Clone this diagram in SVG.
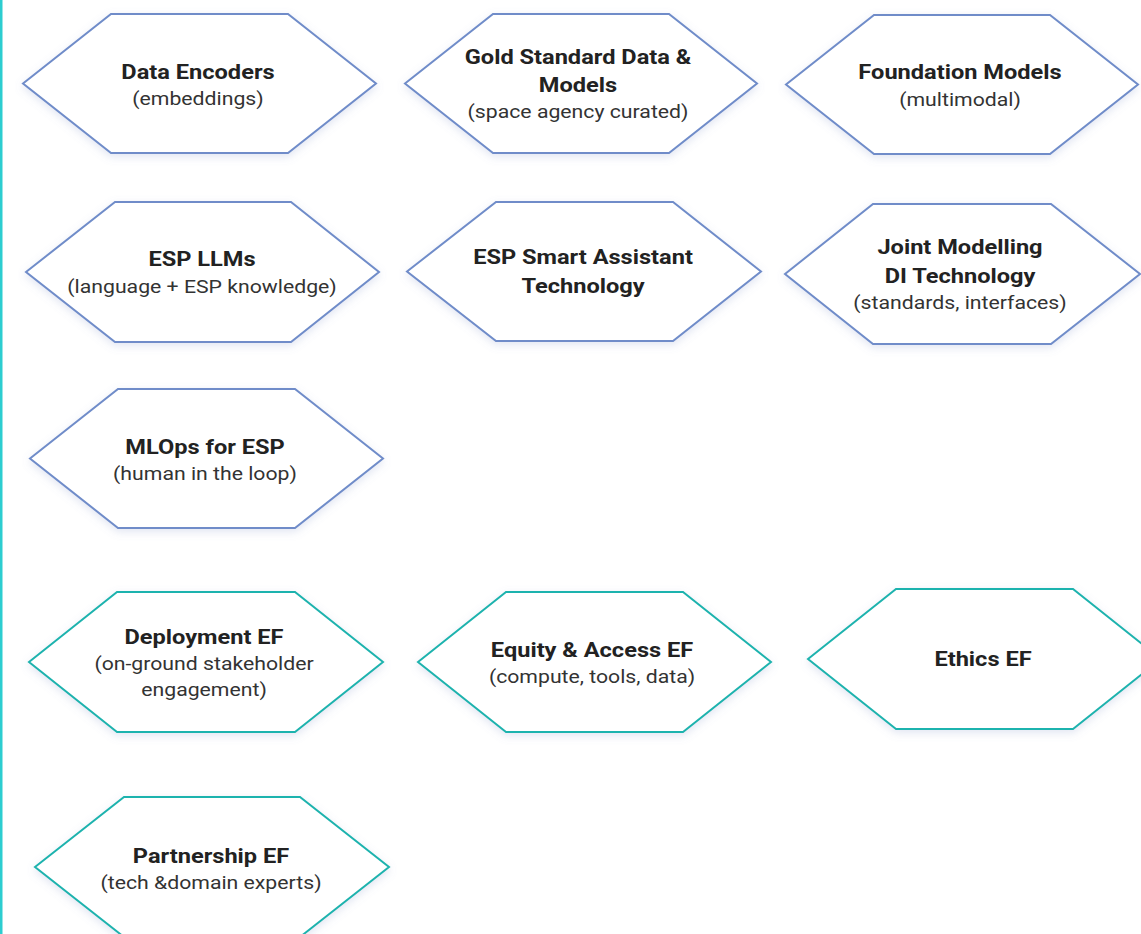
<svg xmlns="http://www.w3.org/2000/svg" width="1141" height="934" viewBox="0 0 1141 934">
<defs>
<filter id="sh" x="-10%" y="-10%" width="120%" height="130%">
<feDropShadow dx="0" dy="3" stdDeviation="4" flood-color="#7a8cc8" flood-opacity="0.22"/>
</filter>
<style>
.hx{fill:#ffffff;stroke-width:2;filter:url(#sh)}
.tech{stroke:#6f8cc9}
.ef{stroke:#1fb3ae}
.t{font-family:Roboto,"Liberation Sans",sans-serif;font-weight:700;font-size:20px;fill:#222222;text-anchor:middle}
.s{font-family:Roboto,"Liberation Sans",sans-serif;font-weight:400;font-size:18px;fill:#333333;text-anchor:middle}
</style>
</defs>
<rect x="0" y="0" width="1141" height="934" fill="#ffffff"/>
<rect x="0" y="0" width="2.5" height="934" fill="#2ccdd0"/>
<g id="connectors"></g>
<g id="data-encoders">
<polygon class="hx tech" points="23,83.5 111,14 288,14 376,83.5 288,153 111,153"/>
<g transform="translate(198 0) scale(1.18 1)">
<text class="t" x="0" y="79">Data Encoders</text>
<text class="s" x="0" y="105.5">(embeddings)</text>
</g>
</g>
<g id="gold-standard">
<polygon class="hx tech" points="405,83.5 493,14 669,14 757,83.5 669,153 493,153"/>
<g transform="translate(578 0) scale(1.18 1)">
<text class="t" x="0" y="64.5">Gold Standard Data &amp;</text>
<text class="t" x="0" y="92.5">Models</text>
<text class="s" x="0" y="118.5">(space agency curated)</text>
</g>
</g>
<g id="foundation-models">
<polygon class="hx tech" points="786,84.5 874,15 1050,15 1138,84.5 1050,154 874,154"/>
<g transform="translate(960 0) scale(1.18 1)">
<text class="t" x="0" y="79.5">Foundation Models</text>
<text class="s" x="0" y="106">(multimodal)</text>
</g>
</g>
<g id="esp-llms">
<polygon class="hx tech" points="26,272 115,202 291,202 379,272 291,342 115,342"/>
<g transform="translate(202 0) scale(1.18 1)">
<text class="t" x="0" y="266.5">ESP LLMs</text>
<text class="s" x="0" y="293.5">(language + ESP knowledge)</text>
</g>
</g>
<g id="esp-smart-assistant">
<polygon class="hx tech" points="407,271.5 496,202 673,202 761,271.5 673,341 496,341"/>
<g transform="translate(583 0) scale(1.18 1)">
<text class="t" x="0" y="264.5">ESP Smart Assistant</text>
<text class="t" x="0" y="293.5">Technology</text>
</g>
</g>
<g id="joint-modelling">
<polygon class="hx tech" points="785,274 873,204 1051,204 1140,274 1051,344 873,344"/>
<g transform="translate(960 0) scale(1.18 1)">
<text class="t" x="0" y="254.5">Joint Modelling</text>
<text class="t" x="0" y="283.5">DI Technology</text>
<text class="s" x="0" y="309.5">(standards, interfaces)</text>
</g>
</g>
<g id="mlops">
<polygon class="hx tech" points="30,458.5 118,389 295,389 383,458.5 295,528 118,528"/>
<g transform="translate(205 0) scale(1.18 1)">
<text class="t" x="0" y="454.5">MLOps for ESP</text>
<text class="s" x="0" y="480.5">(human in the loop)</text>
</g>
</g>
<g id="deployment-ef">
<polygon class="hx ef" points="29,662 117,592 295,592 383,662 295,732 117,732"/>
<g transform="translate(204 0) scale(1.18 1)">
<text class="t" x="0" y="644.5">Deployment EF</text>
<text class="s" x="0" y="670.5">(on-ground stakeholder</text>
<text class="s" x="0" y="696.5">engagement)</text>
</g>
</g>
<g id="equity-access-ef">
<polygon class="hx ef" points="418,662 506,592 683,592 771,662 683,732 506,732"/>
<g transform="translate(592 0) scale(1.18 1)">
<text class="t" x="0" y="657.5">Equity &amp; Access EF</text>
<text class="s" x="0" y="683.5">(compute, tools, data)</text>
</g>
</g>
<g id="ethics-ef">
<polygon class="hx ef" points="808,659 896,589 1073,589 1161,659 1073,729 896,729"/>
<g transform="translate(983 0) scale(1.18 1)">
<text class="t" x="0" y="666.5">Ethics EF</text>
</g>
</g>
<g id="partnership-ef">
<polygon class="hx ef" points="35,867 124,797 300,797 389,867 300,937 124,937"/>
<g transform="translate(211 0) scale(1.18 1)">
<text class="t" x="0" y="863.5">Partnership EF</text>
<text class="s" x="0" y="889.5">(tech &amp;domain experts)</text>
</g>
</g>
</svg>
